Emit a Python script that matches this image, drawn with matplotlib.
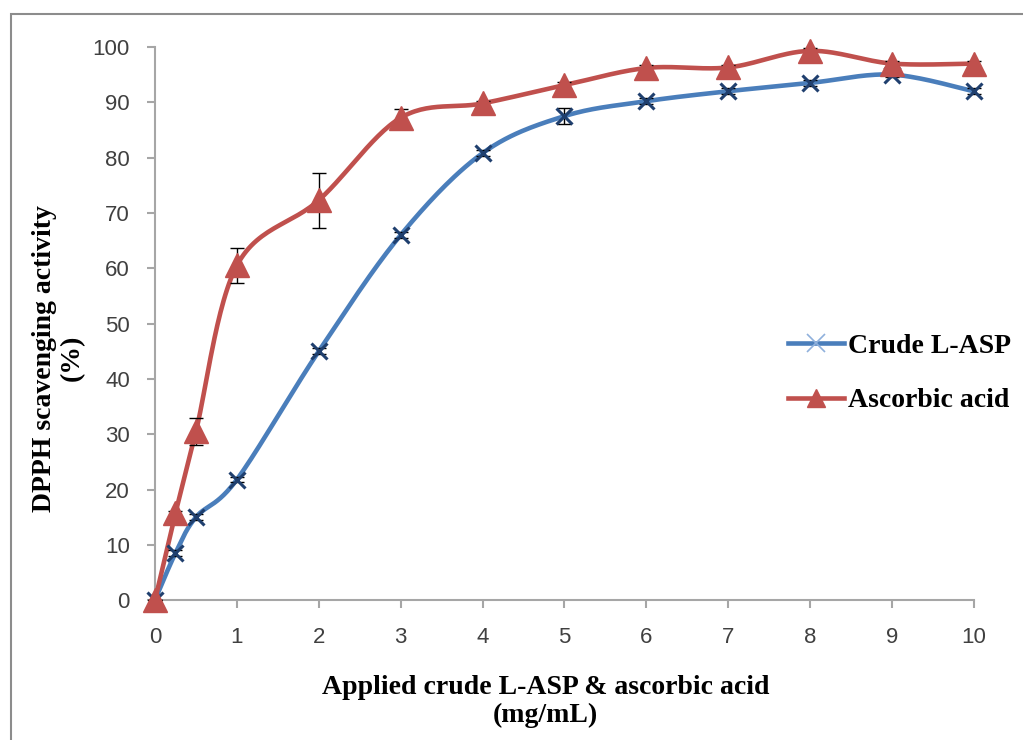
import numpy as np
import matplotlib
matplotlib.use("Agg")
import matplotlib.pyplot as plt
from matplotlib.patches import Rectangle

# concentrations (mg/mL)
conc = [0, 0.25, 0.5, 1, 2, 3, 4, 5, 6, 7, 8, 9, 10]
crude_lasp = [0, 8.5, 15, 21.8, 45, 66, 80.8, 87.5, 90.2, 92, 93.5, 95, 92]
crude_err = [0, 0.5, 0.5, 0.5, 0.5, 0.5, 0.5, 1.5, 0.5, 0.5, 0.5, 0.5, 0.5]
ascorbic = [0, 15.7, 30.5, 60.5, 72.3, 87.2, 89.8, 93.1, 96.2, 96.3, 99.3, 97, 97]
ascorbic_err = [0, 0.5, 2.5, 3.2, 5, 1.6, 0.5, 0.5, 0.5, 0.5, 0.5, 0.5, 0.5]

BLUE = "#4a7ebb"
RED = "#c0504d"
SERIF = {"family": "Liberation Serif", "weight": "bold", "size": 20}


def smooth(x, y, n=30):
    # excel-style bezier smoothing through every point
    x = np.asarray(x, float)
    y = np.asarray(y, float)
    pts = np.column_stack([x, y])
    out = [pts[0]]
    for i in range(len(pts) - 1):
        p0 = pts[i - 1] if i > 0 else pts[i]
        p1 = pts[i]
        p2 = pts[i + 1]
        p3 = pts[i + 2] if i + 2 < len(pts) else pts[i + 1]
        c1 = p1 + (p2 - p0) / 6
        c2 = p2 - (p3 - p1) / 6
        t = np.linspace(0, 1, n)[1:, None]
        seg = ((1 - t) ** 3 * p1 + 3 * (1 - t) ** 2 * t * c1
               + 3 * (1 - t) * t ** 2 * c2 + t ** 3 * p2)
        out.extend(seg)
    out = np.array(out)
    return out[:, 0], out[:, 1]


fig = plt.figure(figsize=(10.23, 7.4), dpi=100)
ax = fig.add_axes([0.1515, 0.189, 0.8005, 0.7475])

fig.patches.append(Rectangle((0.011, -0.1), 1.2, 1.081, transform=fig.transFigure,
                             fill=False, edgecolor="#8c8c8c", lw=1.5))

sx, sy = smooth(conc, crude_lasp)
ax.plot(sx, sy, color=BLUE, lw=3.3, zorder=3, clip_on=False)
ax.errorbar(conc, crude_lasp, yerr=crude_err, fmt="none", ecolor="black",
            elinewidth=1, capsize=5, zorder=4, clip_on=False)
ax.plot(conc, crude_lasp, ls="none", marker="x", ms=12, mew=2.2,
        color="#1f3f6e", zorder=5, clip_on=False)

sx, sy = smooth(conc, ascorbic)
ax.plot(sx, sy, color=RED, lw=3.3, zorder=3, clip_on=False)
ax.errorbar(conc, ascorbic, yerr=ascorbic_err, fmt="none", ecolor="black",
            elinewidth=1, capsize=5, zorder=4, clip_on=False)
ax.plot(conc, ascorbic, ls="none", marker="^", ms=17, color=RED,
        zorder=6, clip_on=False)

# legend handles
ax.plot([], [], color=BLUE, lw=3.3, marker="x", ms=13, mew=1.2,
        mec="#8fb0dc", label="Crude L-ASP")
ax.plot([], [], color=RED, lw=3.3, marker="^", ms=13, label="Ascorbic acid")
ax.legend(loc="center left", bbox_to_anchor=(0.756, 0.41), frameon=False,
          borderpad=0, handlelength=2.0, handletextpad=0.15, labelspacing=1.05,
          prop=SERIF)

ax.set_xlim(0, 10)
ax.set_ylim(0, 100)
ax.set_xticks(range(0, 11))
ax.set_yticks(range(0, 101, 10))
for s in ["top", "right"]:
    ax.spines[s].set_visible(False)
for s in ["left", "bottom"]:
    ax.spines[s].set_color("#a6a6a6")
    ax.spines[s].set_linewidth(1.5)
ax.tick_params(direction="out", length=6, width=1.5, color="#a6a6a6",
               labelsize=16, labelcolor="#404040")
ax.tick_params(axis="x", pad=13)
ax.tick_params(axis="y", pad=12)
for lab in ax.get_xticklabels() + ax.get_yticklabels():
    lab.set_family("Liberation Sans")

ax.text(0.477, -0.1826, "Applied crude L-ASP & ascorbic acid\n(mg/mL)",
        transform=ax.transAxes, ha="center", va="center",
        linespacing=1.15, **SERIF)
ax.text(-0.118, 0.4376, "DPPH scavenging activity\n(%)",
        transform=ax.transAxes, ha="center", va="center", rotation=90,
        linespacing=1.15, **SERIF)

fig.savefig("out.png", dpi=100)
